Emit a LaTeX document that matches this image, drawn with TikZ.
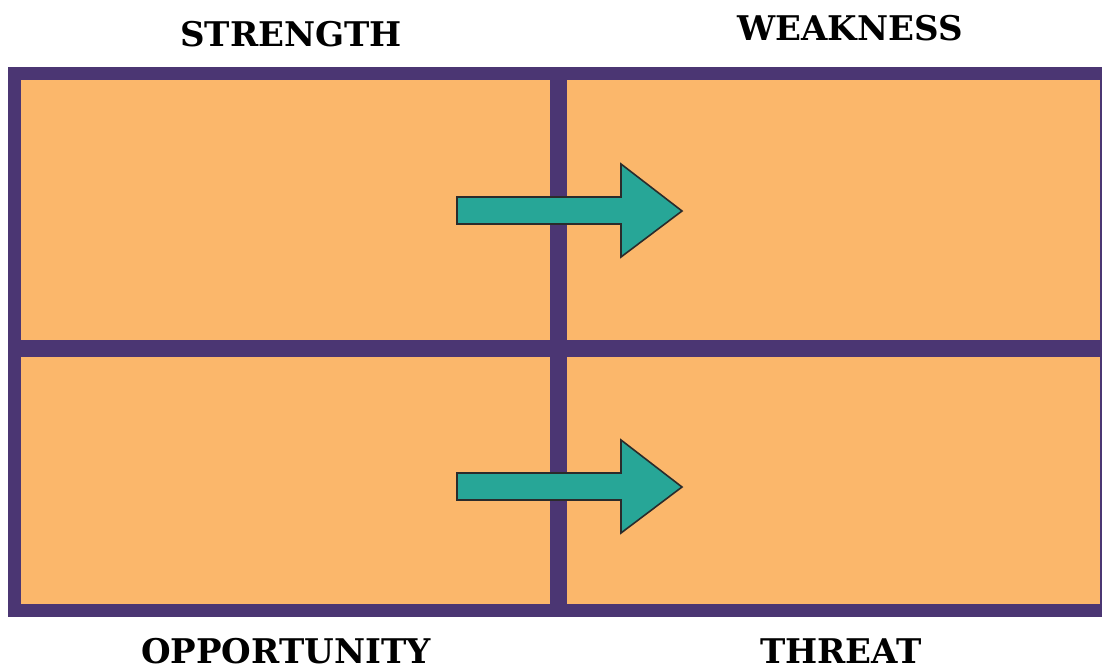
\documentclass[tikz,border=0pt]{standalone}
\usepackage{fontspec}
\setmainfont{DejaVu Serif}
\definecolor{framepurple}{HTML}{4B3673}
\definecolor{cellorange}{HTML}{FBB76B}
\definecolor{arrowteal}{HTML}{27A697}
\definecolor{arrowline}{HTML}{2B2B2B}
\begin{document}
\begin{tikzpicture}[x=1pt,y=-1pt,
  cell/.style={fill=cellorange},
  label/.style={anchor=base,font=\fontsize{34}{36}\selectfont\bfseries,inner sep=0pt,text depth=0pt},
  bigarrow/.style={fill=arrowteal,draw=arrowline,line width=1.6pt,line join=miter}]
\useasboundingbox (0,0) rectangle (1102,668);
\fill[white] (0,0) rectangle (1102,668);
% frame
\fill[framepurple] (8,67) rectangle (1102,617);
\fill[cell] (21,80) rectangle (550,340);
\fill[cell] (567,80) rectangle (1100,340);
\fill[cell] (21,357) rectangle (550,604);
\fill[cell] (567,357) rectangle (1100,604);
% arrows
\draw[bigarrow] (457,197) -- (621,197) -- (621,164) -- (682,211) -- (621,257) -- (621,224) -- (457,224) -- cycle;
\draw[bigarrow] (457,473) -- (621,473) -- (621,440) -- (682,487) -- (621,533) -- (621,500) -- (457,500) -- cycle;
% labels
\node[label] (s) at (291,47) {STRENGTH};
\node[label] (w) at (850,41) {WEAKNESS};
\node[label] (o) at (286,663) {OPPORTUNITY};
\node[label] (t) at (841,663) {THREAT};
\end{tikzpicture}
\end{document}
